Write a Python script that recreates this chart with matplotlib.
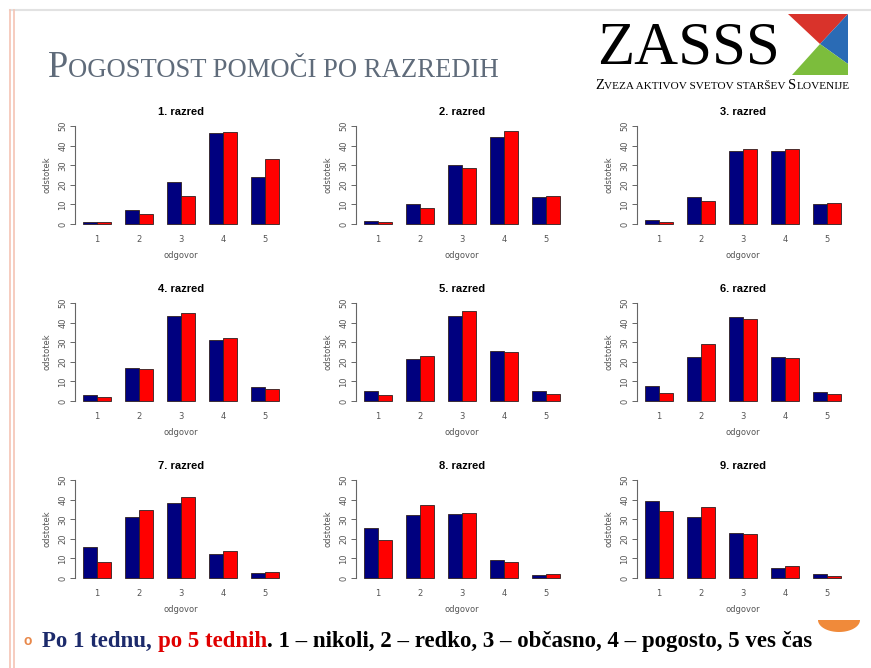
import numpy as np
import matplotlib
matplotlib.use("Agg")
import matplotlib.pyplot as plt
from matplotlib.transforms import Affine2D
from matplotlib.patches import Polygon
from matplotlib.lines import Line2D

W, H = 871, 668

### Data (percent of answers per grade)
### ------------------------------------
grades = ["1. razred", "2. razred", "3. razred",
          "4. razred", "5. razred", "6. razred",
          "7. razred", "8. razred", "9. razred"]
answers = ["1", "2", "3", "4", "5"]

# after 1 week (blue)
week1 = [[1.2, 7.3, 21.5, 46.3, 24.0],
         [1.5, 10.1, 30.2, 44.4, 13.9],
         [2.2, 13.7, 37.2, 37.2, 10.1],
         [2.9, 16.7, 43.3, 31.0, 6.9],
         [5.3, 21.2, 43.3, 25.7, 5.3],
         [7.9, 22.2, 43.1, 22.5, 4.6],
         [15.9, 31.1, 38.1, 12.5, 2.7],
         [25.3, 31.9, 32.9, 9.0, 1.5],
         [39.2, 31.1, 23.0, 4.9, 2.2]]

# after 5 weeks (red)
week5 = [[1.0, 5.1, 14.4, 47.0, 33.3],
         [1.0, 8.4, 28.5, 47.6, 14.5],
         [1.2, 11.7, 38.2, 38.3, 10.8],
         [1.9, 16.4, 45.0, 32.2, 5.9],
         [3.3, 22.9, 45.9, 25.0, 3.8],
         [4.3, 28.9, 41.9, 21.8, 3.8],
         [8.2, 34.5, 41.3, 13.7, 2.9],
         [19.3, 37.0, 33.3, 8.4, 2.2],
         [34.1, 36.3, 22.7, 6.0, 1.0]]

### Figure + pixel transform (image coords, y down)
### -----------------------------------------------
fig = plt.figure(figsize=(W/100, H/100), dpi=100)
pix = Affine2D().scale(1/100, -1/100).translate(0, H/100) + fig.dpi_scale_trans
r = fig.canvas.get_renderer()

serif = "Liberation Serif"
sans = "Liberation Sans"


### Text helpers
### ------------
def measure(s, size, weight="normal", family=serif):
    t = fig.text(0, 0, s, fontsize=size, weight=weight, family=family)
    w = t.get_window_extent(r).width
    t.remove()
    return w

def space_w(size, weight, family):
    return measure("a a", size, weight, family) - measure("aa", size, weight, family)

def parts_width(parts, family):
    w = 0
    for s, size, color, weight in parts:
        w += measure(s.strip(), size, weight, family)
        if s.endswith(" "):
            w += space_w(size, weight, family)
    return w

def draw_parts(x, y, parts, family, width=None):
    ### optionally rescale the sizes to fit a target width
    if width is not None:
        k = width / parts_width(parts, family)
        parts = [(s, size*k, c, wt) for s, size, c, wt in parts]
    for s, size, color, weight in parts:
        fig.text(x, y, s.strip(), transform=pix, fontsize=size, color=color,
                 weight=weight, family=family, va="baseline", ha="left")
        x += measure(s.strip(), size, weight, family)
        if s.endswith(" "):
            x += space_w(size, weight, family)
    return x


### Slide frame
### -----------
fig.add_artist(Line2D([10, 871], [10, 10], transform=pix, color="#e2e2e2", lw=1.5))
fig.add_artist(Line2D([10, 10], [10, 668], transform=pix, color="#f5c4b4", lw=1.2))
fig.add_artist(Line2D([14, 14], [10, 668], transform=pix, color="#f5c4b4", lw=1.2))

### Slide title (small caps)
title_col = "#5f6b7a"
draw_parts(48, 77, [("P", 22, title_col, "normal"),
                    ("OGOSTOST POMOČI PO RAZREDIH", 16, title_col, "normal")],
           serif, width=450)

### Logo
draw_parts(597, 63, [("ZASSS", 40, "black", "normal")], serif, width=183)
draw_parts(595, 89, [("Z", 9, "black", "normal"),
                     ("VEZA AKTIVOV SVETOV STARŠEV ", 7, "black", "normal"),
                     ("S", 9, "black", "normal"),
                     ("LOVENIJE", 7, "black", "normal")],
           serif, width=255)
fig.add_artist(Polygon([(788, 14), (848, 14), (820, 44)], closed=True,
                       transform=pix, color="#d9332b", lw=0))
fig.add_artist(Polygon([(848, 14), (848, 64), (820, 44)], closed=True,
                       transform=pix, color="#2a6bb5", lw=0))
fig.add_artist(Polygon([(792, 75), (848, 75), (848, 64), (820, 44)], closed=True,
                       transform=pix, color="#7cbd3c", lw=0))

### Bar panels
### ----------
col_left = [75, 356, 637]
row_zero = [224, 401, 578]
ppu = 1.96  # pixels per percent
ax_w = 212

blue = "#00007f"
red = "#ff0000"
grey = "#555555"

pos = np.arange(len(answers)) * 3

for i, name in enumerate(grades):
    L = col_left[i % 3]
    y0 = row_zero[i // 3]
    top = y0 - 52*ppu
    bot = y0 + 2*ppu
    ax = fig.add_axes([L/W, (H - bot)/H, ax_w/W, (bot - top)/H])

    ax.bar(pos + 1.5, week1[i], width=1, color=blue, edgecolor="#302020", lw=0.6)
    ax.bar(pos + 2.5, week5[i], width=1, color=red, edgecolor="#302020", lw=0.6)

    ### Decorate
    ax.set_xlim(0.44, 15.56)
    ax.set_ylim(-2, 52)
    for sp in ["top", "right", "bottom"]:
        ax.spines[sp].set_visible(False)
    ax.spines["left"].set_bounds(0, 50)
    ax.spines["left"].set_color("#666666")
    ax.spines["left"].set_linewidth(0.8)

    ax.set_yticks(range(0, 51, 10))
    ax.tick_params(axis="y", labelsize=6, labelcolor=grey, color="#666666",
                   length=3.5, width=0.7, pad=2, labelrotation=90)
    for lab in ax.get_yticklabels():
        lab.set_va("center")
    ax.set_xticks(pos + 2)
    ax.set_xticklabels(answers)
    ax.tick_params(axis="x", labelsize=6, labelcolor=grey, length=0, pad=5)

    ax.set_title(name, fontsize=8, weight="bold", family=sans, pad=5)
    ax.set_xlabel("odgovor", fontsize=6, color=grey, labelpad=5)
    ax.set_ylabel("odstotek", fontsize=6, color=grey, labelpad=5)
    ax.patch.set_alpha(0)

### Bottom legend line
### ------------------
fig.text(28, 641, "o", transform=pix, fontsize=10, color="#e8884a",
         weight="bold", ha="center", va="center", family=sans)
draw_parts(42, 647, [("Po 1 tednu, ", 14, "#1c2a6b", "bold"),
                     ("po 5 tednih", 14, "#e00000", "bold"),
                     (". 1 – nikoli, 2 – redko, 3 – občasno, 4 – pogosto, 5 ves čas",
                      14, "black", "bold")],
           serif, width=773)

### Orange half disk at bottom right
t = np.linspace(0, np.pi, 40)
fig.add_artist(Polygon(np.column_stack([839 + 21*np.cos(t), 620 + 12*np.sin(t)]),
                       closed=True, transform=pix, color="#f08a3a", lw=0))

fig.savefig("out.png", dpi=100)
